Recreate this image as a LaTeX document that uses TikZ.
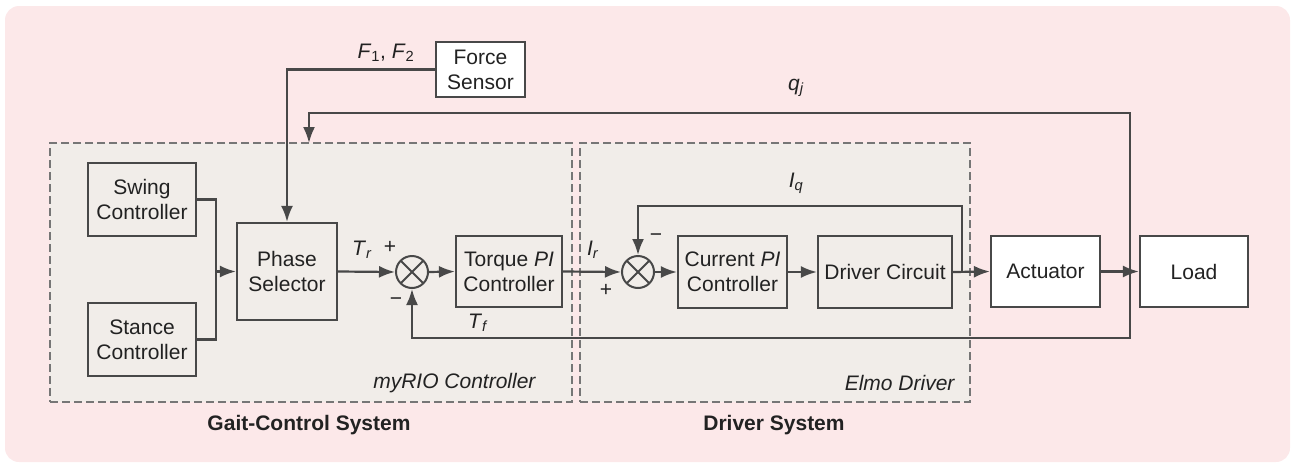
\documentclass[tikz,border=0pt]{standalone}
\usepackage{fontspec}
\setmainfont{Liberation Sans}
\usetikzlibrary{arrows.meta}

\definecolor{bgpink}{HTML}{FCE8E9}
\definecolor{grpfill}{HTML}{F1EDE9}
\definecolor{linegray}{HTML}{484848}
\definecolor{dashgray}{HTML}{767676}
\definecolor{txtgray}{HTML}{222222}

\newcommand{\sigl}[2]{\textit{#1}\textsubscript{\textit{#2}}}

\begin{document}
\begin{tikzpicture}[x=1pt,y=-1pt,
    font=\fontsize{21}{25}\selectfont, text=txtgray,
    >={Latex[length=16pt,width=12pt]},
    blk/.style={draw=linegray, line width=2.2pt, align=center, inner sep=0pt,
        minimum width=108pt, minimum height=72pt},
    whiteblk/.style={blk, fill=white},
    sumnode/.style={circle, draw=linegray, line width=2pt, inner sep=0pt,
        minimum size=32pt,
        path picture={\draw[linegray, line width=2pt]
            (path picture bounding box.north west) -- (path picture bounding box.south east)
            (path picture bounding box.north east) -- (path picture bounding box.south west);}},
    grpbox/.style={draw=dashgray, line width=1.6pt, dash pattern=on 8pt off 4pt,
        fill=grpfill, minimum height=259pt, inner sep=0pt},
    sgn/.style={font=\fontsize{21}{21}\selectfont},
    wire/.style={draw=linegray, line width=2.2pt}]

    \useasboundingbox (0,0) rectangle (1297,466);
    \fill[bgpink, rounded corners=14pt] (5,6) rectangle (1290,462);

    % Dashed groups
    \node[grpbox, minimum width=522pt] (gait) at (311,272.5) {};
    \node[grpbox, minimum width=390pt] (elmo) at (775,272.5) {};
    \node[anchor=east, font=\fontsize{21}{25}\selectfont\itshape] (myrio) at (539,383) {myRIO Controller};
    \node[anchor=east, font=\fontsize{21}{25}\selectfont\itshape] (elmolbl) at (958,383) {Elmo Driver};
    \node[font=\fontsize{21}{25}\selectfont\bfseries] (gaitlbl) at (309,425) {Gait-Control System};
    \node[font=\fontsize{21}{25}\selectfont\bfseries] (drvlbl) at (774,425) {Driver System};

    % Blocks
    \node[blk, minimum height=73pt] (swing) at (142,199.5) {Swing\\Controller};
    \node[blk, minimum height=73pt] (stance) at (142,339.5) {Stance\\Controller};
    \node[blk, minimum width=100pt, minimum height=97pt] (ps) at (287,271.5) {Phase\\Selector};
    \node[sumnode] (s1) at (412,272) {};
    \node[blk, minimum width=106pt, minimum height=71pt] (tq) at (509,271.5) {Torque \textit{PI}\\Controller};
    \node[sumnode] (s2) at (638,272) {};
    \node[blk, minimum width=109pt] (cur) at (732.5,272) {Current \textit{PI}\\Controller};
    \node[blk, minimum width=134pt] (drv) at (885,272) {Driver Circuit};
    \node[whiteblk, minimum width=109pt, minimum height=71pt] (act) at (1045.5,271.5) {Actuator};
    \node[whiteblk, minimum width=108pt, minimum height=71pt] (load) at (1194,271.5) {Load};
    \node[whiteblk, minimum width=89pt, minimum height=55pt] (force) at (480.5,69.5) {Force\\Sensor};

    % Forward path
    \coordinate (mrg) at ([xshift=-20pt]ps.west);
    \draw[wire] (swing.east) -| (mrg) |- (stance.east);
    \draw[wire,->] (mrg) -- (ps.west);
    \draw[wire,->] (force.west) -| (ps.north);
    \draw[wire,->] (ps.east) -- (s1.west);
    \draw[wire,->] (s1.east) -- (tq.west);
    \draw[wire,->] (tq.east) -- (s2.west);
    \draw[wire,->] (s2.east) -- (cur.west);
    \draw[wire,->] (cur.east) -- (drv.west);
    \draw[wire,->] (drv.east) -- (act.west);
    \draw[wire,->] (act.east) -- (load.west);

    % Feedback loops
    \coordinate (iqtap) at ([xshift=9pt]drv.east);
    \coordinate (tap) at ([xshift=-9pt]load.west);
    \coordinate (qjin) at (309,143);
    \draw[wire,->] (iqtap) -- ++(0,-66) -| (s2.north);
    \draw[wire,->] (tap) -- ++(0,-158.5) -| (qjin);
    \draw[wire,->] (tap) -- ++(0,66.5) -| (s1.south);

    % Signal labels
    \node (f12) at (386,53) {\textit{F}\textsubscript{1}, \textit{F}\textsubscript{2}};
    \node (qj) at (796,88) {\textit{q}\textsubscript{\textit{j}}};
    \node (iq) at (796,183) {\sigl{I}{q}};
    \node (tr) at (362,250) {\sigl{T}{r}};
    \node (tf) at (478,323) {\sigl{T}{f}};
    \node (ir) at (593,250) {\sigl{I}{r}};
    \node[sgn] (p1) at (390,247) {+};
    \node[sgn] (m1) at (396,302) {−};
    \node[sgn] (p2) at (606,290) {+};
    \node[sgn] (m2) at (656,238) {−};
\end{tikzpicture}
\end{document}
